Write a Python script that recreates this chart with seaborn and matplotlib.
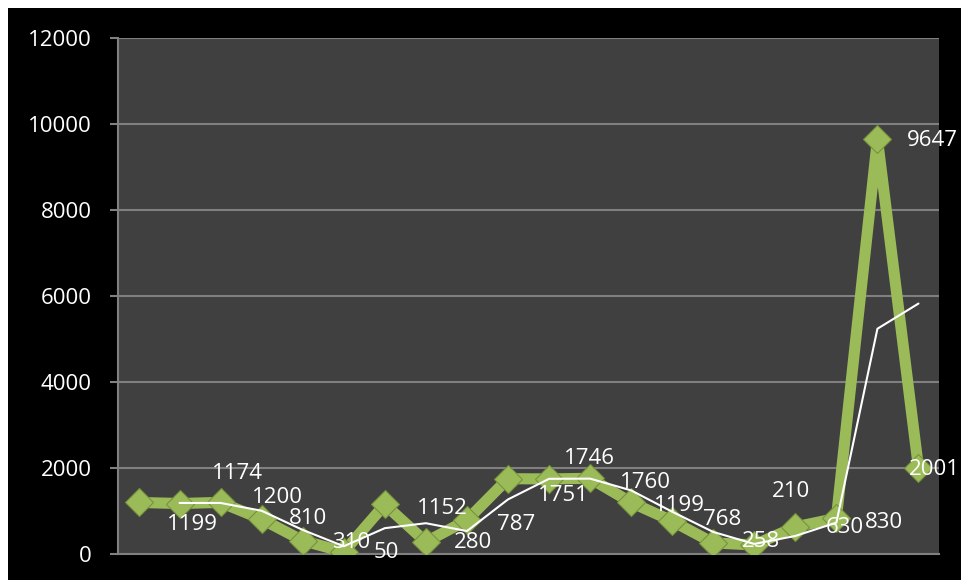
import pandas as pd
import numpy as np
import seaborn as sns
import matplotlib.pyplot as plt
from matplotlib.patches import Rectangle

# data
points = list(range(1, 21))
values = [1199, 1174, 1200, 810, 310, 50, 1152, 280, 787, 1751,
          1746, 1760, 1199, 768, 258, 210, 630, 830, 9647, 2001]
y_ticks = [0, 2000, 4000, 6000, 8000, 10000, 12000]

# where each data label sits, in pixels from its point
label_dx = [28, 32, 31, 27, 29, 30, 32, 28, 30, 30, 15, 30, 23, 31, 29, 18, 30, 29, 29, -10]
label_dy = [-22, 30, 5, 1, -2, -1, -4, -1, -4, -17, 20, -4, -3, 1, 1, 53, -1, -4, -1, -2]

data = pd.DataFrame({'Point': points, 'Value': values})
data['Trend'] = data['Value'].rolling(2).mean()

sns.set_style("dark")
plt.rcParams['font.family'] = ['Open Sans', 'DejaVu Sans']

fig = plt.figure(figsize=(9.62, 5.80), dpi=100, facecolor='white')
# black chart area with a thin white edge at top and left
fig.patches.append(Rectangle((8 / 962, 0), 1, 572 / 580, transform=fig.transFigure,
                             facecolor='black', edgecolor='none', zorder=-10))
ax = fig.add_axes([118 / 962, 26 / 580, 821 / 962, 516 / 580])
ax.set_facecolor('#404040')

sns.lineplot(data=data, x='Point', y='Value', ax=ax, color='#9BBB59', linewidth=8,
             marker='D', markersize=14.5, markerfacecolor='#9BBB59',
             markeredgecolor='#76923C', markeredgewidth=0.8, zorder=3)
sns.lineplot(data=data, x='Point', y='Trend', ax=ax, color='white', linewidth=1.5, zorder=4)

for x, v, dx, dy in zip(points, values, label_dx, label_dy):
    ax.annotate(str(v), (x, v), xytext=(dx, dy), textcoords='offset pixels',
                ha='left', va='center', color='white', fontsize=16, zorder=5,
                annotation_clip=False)

ax.set_xlim(0.5, 20.5)
ax.set_ylim(0, 12000)
ax.set_yticks(y_ticks)
ax.set_yticklabels([str(t) for t in y_ticks], color='white', fontsize=16)
ax.set_xticks([])
ax.tick_params(axis='y', direction='out', length=6, width=1.5, color='#808080', pad=13, left=True)
ax.yaxis.grid(True, color='#808080', linewidth=1.5)
ax.xaxis.grid(False)
for side in ['top', 'right']:
    ax.spines[side].set_visible(False)
for side in ['left', 'bottom']:
    ax.spines[side].set_visible(True)
    ax.spines[side].set_color('#808080')
    ax.spines[side].set_linewidth(1.5)
ax.set_xlabel('')
ax.set_ylabel('')

fig.savefig('out.png', dpi=100, facecolor=fig.get_facecolor())
